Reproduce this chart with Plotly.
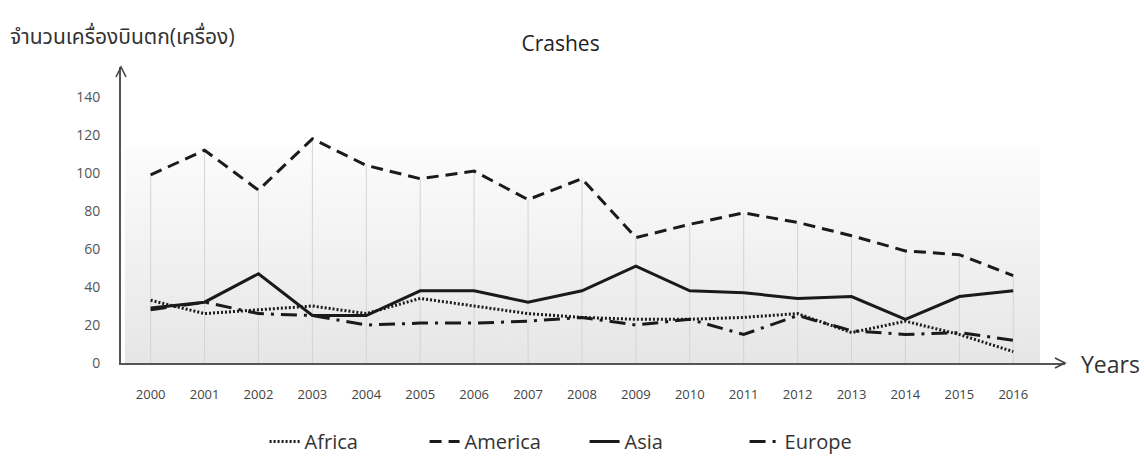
import base64
import plotly.graph_objects as go

# Aircraft crashes per year by region
years = list(range(2000, 2017))
africa = [33, 26, 28, 30, 26, 34, 30, 26, 24, 23, 23, 24, 26, 16, 22, 15, 6]
america = [99, 112, 91, 118, 104, 97, 101, 86, 97, 66, 73, 79, 74, 67, 59, 57, 46]
asia = [29, 32, 47, 25, 25, 38, 38, 32, 38, 51, 38, 37, 34, 35, 23, 35, 38]
europe = [28, 32, 26, 25, 20, 21, 21, 22, 24, 20, 23, 15, 25, 17, 15, 16, 12]

y_ticks = [0, 20, 40, 60, 80, 100, 120, 140]

FONT = "Open Sans, Noto Sans Thai, Noto Sans, sans-serif"
INK = "#1a1a1a"

fig = go.Figure()

# light vertical drop lines under the top series
drop_x, drop_y = [], []
for yr, v in zip(years, america):
    drop_x += [yr, yr, None]
    drop_y += [0, v, None]
fig.add_trace(go.Scatter(
    x=drop_x, y=drop_y, mode="lines",
    line=dict(color="#d4d4d4", width=1),
    showlegend=False, hoverinfo="skip",
))

series = [
    ("Africa", africa, "2px,2px"),
    ("America", america, "12px,7px"),
    ("Asia", asia, "solid"),
    ("Europe", europe, "16px,7px,3px,7px"),
]
for name, vals, dash in series:
    fig.add_trace(go.Scatter(
        x=years, y=vals, mode="lines", name=name,
        line=dict(color=INK, width=3, dash=dash),
    ))

# soft vertical gradient panel behind the lines
svg = (
    '<svg xmlns="http://www.w3.org/2000/svg" width="100" height="100" preserveAspectRatio="none">'
    '<defs><linearGradient id="g" x1="0" y1="0" x2="0" y2="1">'
    '<stop offset="0" stop-color="#fcfcfc"/><stop offset="1" stop-color="#e6e6e6"/>'
    '</linearGradient></defs><rect width="100" height="100" fill="url(#g)"/></svg>'
)
src = "data:image/svg+xml;base64," + base64.b64encode(svg.encode()).decode()
fig.add_layout_image(dict(
    source=src, xref="x", yref="y", x=1999.52, y=114,
    sizex=16.98, sizey=114, sizing="stretch",
    xanchor="left", yanchor="top", layer="below",
))

# arrow heads at the ends of both axes
fig.add_shape(type="path", xref="paper", yref="paper",
              xsizemode="pixel", ysizemode="pixel", xanchor=0, yanchor=1,
              path="M-5,-10 L0,0 L5,-10", line=dict(color="#444", width=1.6))
fig.add_shape(type="path", xref="paper", yref="paper",
              xsizemode="pixel", ysizemode="pixel", xanchor=1, yanchor=0,
              path="M-10,5 L0,0 L-10,-5", line=dict(color="#444", width=1.6))

fig.add_annotation(text="Years", xref="paper", yref="paper", x=1, y=0,
                   xanchor="left", yanchor="middle", xshift=14, yshift=-1, showarrow=False,
                   font=dict(family=FONT, size=23, color="#333"))
fig.add_annotation(text="จำนวนเครื่องบินตก(เครื่อง)", xref="paper", yref="paper",
                   x=0, y=1, xanchor="left", yanchor="middle", xshift=-113, yshift=31,
                   showarrow=False, font=dict(family=FONT, size=21, color="#333"))

fig.update_layout(
    width=1144, height=461,
    margin=dict(l=121, r=79, t=67, b=98),
    paper_bgcolor="white", plot_bgcolor="white",
    title=dict(text="Crashes", x=0.49, xanchor="center", y=0.905, yanchor="middle",
               font=dict(family=FONT, size=21, color="#222")),
    font=dict(family=FONT, color="#555"),
    showlegend=True,
    legend=dict(orientation="h", xref="container", yref="container",
                x=0.511, xanchor="center", y=0.0, yanchor="bottom",
                font=dict(family=FONT, size=20, color="#333"),
                entrywidth=115, entrywidthmode="pixels",
                tracegroupgap=0, bgcolor="rgba(0,0,0,0)"),
)
fig.update_xaxes(
    range=[1999.45, 2016.96], tickmode="array", tickvals=years,
    ticktext=[str(y) for y in years], showgrid=False, zeroline=False,
    showline=True, linecolor="#555", linewidth=2,
    ticks="", ticklabelstandoff=18,
    tickfont=dict(family=FONT, size=13, color="#444"),
)
fig.update_yaxes(
    range=[0, 155.8], tickmode="array", tickvals=y_ticks,
    showgrid=False, zeroline=False,
    showline=True, linecolor="#555", linewidth=2,
    ticks="", ticklabelstandoff=16,
    tickfont=dict(family=FONT, size=14, color="#555"),
)

fig.write_html("out.html")
